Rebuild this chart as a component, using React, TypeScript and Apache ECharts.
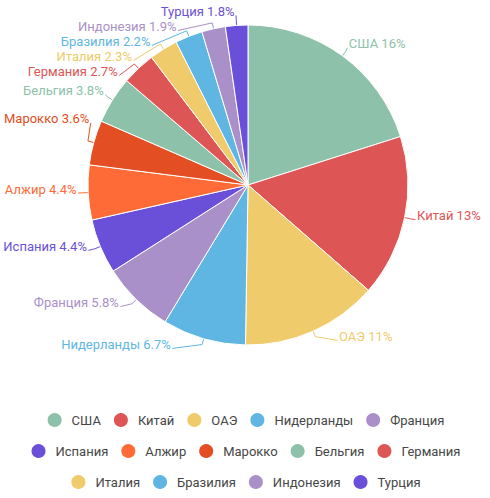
import React, { useEffect, useRef } from "react";
import * as echarts from "echarts";

const countries = [
  "США", "Китай", "ОАЭ", "Нидерланды", "Франция", "Испания", "Алжир",
  "Марокко", "Бельгия", "Германия", "Италия", "Бразилия", "Индонезия", "Турция",
];
const shares = [16, 13, 11, 6.7, 5.8, 4.4, 4.4, 3.6, 3.8, 2.7, 2.3, 2.2, 1.9, 1.8];
const palette = ["#8dc1a9", "#dd5555", "#efcb6b", "#60b6e3", "#aa90c8", "#6a50d8", "#fe6b36", "#e34e22"];
const legendRows = [countries.slice(0, 5), countries.slice(5, 10), countries.slice(10)];

const CX = 248;
const CY = 185;
const RADIUS = 160;
const LABEL_RX = 170;
const LABEL_RY_TOP = 174;
const LABEL_RY_BOTTOM = 178;
const LIFT = 4;
const labelNudge: Record<string, number> = { "Марокко": -17 };

export default function App() {
  const ref = useRef<HTMLDivElement>(null);
  useEffect(() => {
    document.body.style.margin = "0";
    const chart = echarts.init(ref.current!, null, { renderer: "svg" });
    chart.setOption({
      animation: false,
      color: palette,
      textStyle: { fontFamily: "Roboto" },
      legend: legendRows.map((row, i) => ({
        data: row,
        top: 405 + i * 31,
        left: "center",
        icon: "circle",
        itemWidth: 16,
        itemHeight: 16,
        itemGap: 11,
        textStyle: { fontSize: 13, color: "#464646", padding: [0, 0, 0, 4], lineHeight: 20 },
      })),
      series: [
        {
          type: "pie",
          center: [CX, CY],
          radius: RADIUS,
          startAngle: 90,
          itemStyle: { borderColor: "#fff", borderWidth: 1 },
          label: {
            formatter: "{b} {c}%",
            fontSize: 13,
            color: "inherit",
            overflow: "none",
            distanceToLabelLine: 2,
          },
          labelLine: { length: 10, length2: 0.1 },
          labelLayout: (p: any) => {
            const pts = p.labelLinePoints;
            if (!pts) return {};
            const name = countries[p.dataIndex];
            const x0 = pts[0][0];
            const y0 = pts[0][1];
            const dir = x0 < CX ? -1 : 1;
            const lineY = pts[2][1] + (labelNudge[name] || 0);
            const textY = lineY - LIFT;
            const dy = textY - CY;
            const ry = dy < 0 ? LABEL_RY_TOP : LABEL_RY_BOTTOM;
            const t = Math.max(0, 1 - (dy * dy) / (ry * ry));
            const anchorX = CX + dir * LABEL_RX * Math.sqrt(t);
            const ux = (x0 - CX) / RADIUS;
            const uy = (y0 - CY) / RADIUS;
            const p1 = [x0 + ux * 6, y0 + uy * 6];
            return {
              x: anchorX + dir * 1.5,
              y: textY,
              align: dir < 0 ? "right" : "left",
              verticalAlign: "middle",
              labelLinePoints: [[x0, y0], p1, [anchorX, lineY]],
            };
          },
          data: countries.map((name, i) => ({ name, value: shares[i] })),
        },
      ],
    });
    return () => chart.dispose();
  }, []);
  return <div ref={ref} style={{ width: 490, height: 498 }} />;
}
